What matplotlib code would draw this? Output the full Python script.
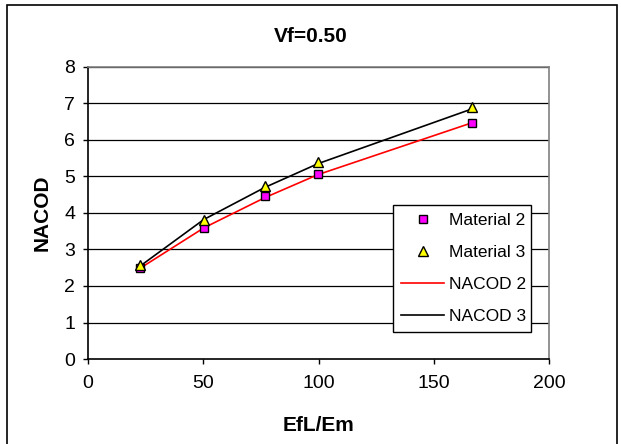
import matplotlib.pyplot as plt
from matplotlib.patches import Rectangle

plt.rcParams['font.family'] = ['Liberation Sans', 'DejaVu Sans']

# data
efl_em = [22.7, 50.2, 76.7, 99.7, 166.5]
material2 = [2.49, 3.60, 4.47, 5.07, 6.47]
material3 = [2.58, 3.82, 4.73, 5.39, 6.91]
nacod2 = [2.49, 3.59, 4.42, 5.05, 6.47]
nacod3 = [2.55, 3.82, 4.70, 5.35, 6.85]
xticks = [0, 50, 100, 150, 200]
yticks = [0, 1, 2, 3, 4, 5, 6, 7, 8]

W, H = 621, 444
L, R, T, B = 88, 549, 67, 359
fig = plt.figure(figsize=(W / 100, H / 100), dpi=100)
ax = fig.add_axes([L / W, 1 - B / H, (R - L) / W, (B - T) / H])

def ax_x(px):
    return (px - L) / (R - L)

def ax_y(py):
    return (B - py) / (B - T)

# outer chart frame
fig.patches.append(Rectangle((7 / W, -0.05), (617 - 7) / W, 1 - 5 / H + 0.05,
                             transform=fig.transFigure, fill=False,
                             edgecolor='black', linewidth=1.2))

for y in yticks[1:]:
    ax.axhline(y, color='black', linewidth=0.9, zorder=1)

ax.plot(efl_em, nacod2, color='red', linewidth=1.2, label='NACOD 2', zorder=2)
ax.plot(efl_em, nacod3, color='black', linewidth=1.2, label='NACOD 3', zorder=2)
ax.plot(efl_em, material2, linestyle='none', marker='s', markersize=6,
        markerfacecolor='#ff00ff', markeredgecolor='black', markeredgewidth=1,
        label='Material 2', zorder=3)
ax.plot(efl_em, material3, linestyle='none', marker='^', markersize=7,
        markerfacecolor='#ffff00', markeredgecolor='black', markeredgewidth=1,
        label='Material 3', zorder=3)

ax.set_xlim(0, 200)
ax.set_ylim(0, 8)
ax.set_xticks(xticks)
ax.set_yticks(yticks)
ax.tick_params(labelsize=14, direction='out', length=3.6, width=1)
ax.tick_params(axis='x', pad=8)
ax.tick_params(axis='y', pad=5.5)

for s in ['top', 'right']:
    ax.spines[s].set_color('#808080')
    ax.spines[s].set_linewidth(1.2)
for s in ['left', 'bottom']:
    ax.spines[s].set_color('black')
    ax.spines[s].set_linewidth(1.2)

xl = ax.set_xlabel('EfL/Em', fontsize=15, fontweight='bold')
xl.set_va('center')
ax.xaxis.set_label_coords(0.5, ax_y(425))
yl = ax.set_ylabel('NACOD', fontsize=15, fontweight='bold')
yl.set_va('center')
ax.yaxis.set_label_coords(ax_x(42), ax_y(213))
fig.text(311 / W, 1 - 37 / H, 'Vf=0.50', ha='center', va='center',
         fontsize=15, fontweight='bold')

h, l = ax.get_legend_handles_labels()
order = [2, 3, 0, 1]
x0, x1, y0, y1 = ax_x(393), ax_x(531), ax_y(331), ax_y(205)
leg = ax.legend([h[i] for i in order], [l[i] for i in order],
                loc='upper left', bbox_to_anchor=(x0, y0, x1 - x0, y1 - y0),
                mode='expand', fontsize=12.5, frameon=True, fancybox=False,
                framealpha=1, edgecolor='black', borderpad=0.45,
                labelspacing=0.98, handlelength=2.5, handletextpad=0.3,
                borderaxespad=0)
leg.get_frame().set_linewidth(1)

fig.savefig('out.png', dpi=100)
